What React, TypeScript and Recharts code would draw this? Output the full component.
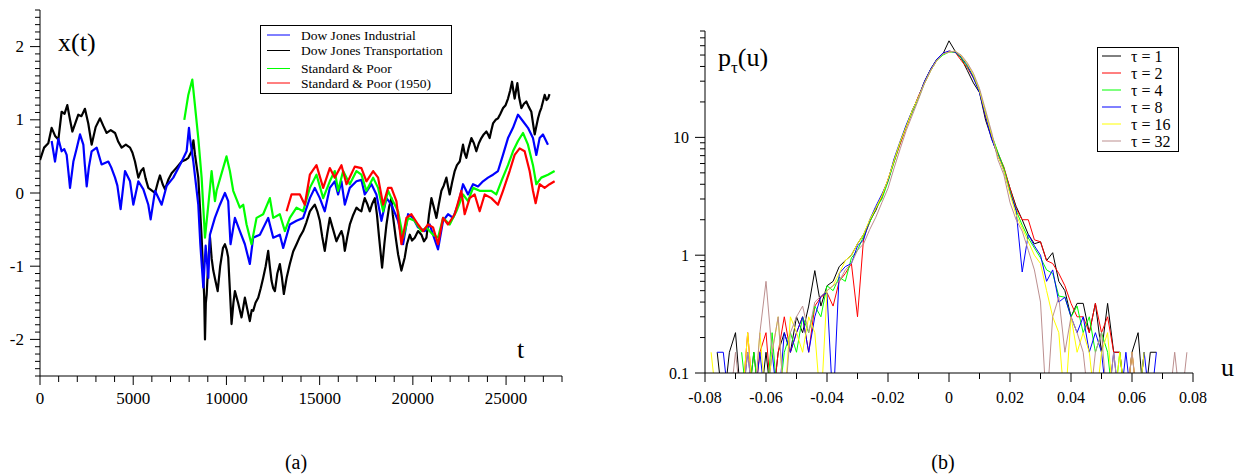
import React from 'react';
import { LineChart, Line, XAxis, YAxis } from 'recharts';

const FONT = '"Liberation Serif", "Times New Roman", Times, serif';

// ---------- Panel (a): x(t) ----------
const DJ_INDUSTRIAL: [number, number][] = [
  [625, 0.71], [805, 0.43], [985, 0.74], [1160, 0.57], [1300, 0.6], [1430, 0.52], [1520, 0.3], [1610, 0.07],
  [1790, 0.43], [1960, 0.6], [2145, 0.8], [2325, 0.66], [2400, 0.4], [2505, 0.09], [2620, 0.35], [2770, 0.57],
  [3040, 0.62], [3305, 0.39], [3665, 0.43], [3820, 0.35], [4025, 0.21], [4150, 0.1], [4325, -0.22], [4560, 0.3],
  [4830, 0.16], [5005, -0.16], [5275, 0.16], [5545, 0.05], [5810, -0.16], [5935, -0.36], [6170, 0.03], [6525, -0.16],
  [6795, 0.1], [7150, 0.21], [7600, 0.43], [7865, 0.57], [7990, 0.89], [8045, 0.75], [8225, 0.43], [8490, -0.16],
  [8600, -0.7], [8760, -1.29], [8885, -0.72], [9030, -1.16], [9115, -0.57], [9380, -0.34], [9650, -0.16], [9920, 0.0],
  [10095, -0.11], [10220, -0.7], [10455, -0.34], [10720, -0.52], [10990, -0.7], [11255, -0.97], [11435, -0.61],
  [11795, -0.57], [12240, -0.34], [12510, -0.61], [12865, -0.57], [13045, -0.75], [13400, -0.43], [13760, -0.38],
  [14115, -0.34], [14475, -0.07], [14740, 0.07], [15010, -0.07], [15275, -0.25], [15545, 0.07], [15810, 0.16],
  [15990, -0.02], [16170, 0.16], [16350, -0.16], [16615, 0.07], [16975, 0.16], [17240, 0.18], [17420, -0.02],
  [17780, 0.12], [18045, -0.02], [18315, -0.38], [18585, -0.07], [18850, -0.16], [19207, -0.38], [19475, -0.7],
  [19743, -0.29], [20011, -0.34], [20279, -0.47], [20636, -0.52], [20904, -0.43], [21083, -0.57], [21351, -0.77],
  [21619, -0.38], [21887, -0.29], [22155, -0.34], [22423, -0.16], [22691, 0.12], [22959, -0.02], [23227, 0.12],
  [23495, 0.09], [23763, 0.16], [24031, 0.21], [24299, 0.25], [24567, 0.3], [24835, 0.52], [25103, 0.75],
  [25371, 0.89], [25639, 1.07], [25907, 0.98], [26175, 0.89], [26443, 0.75], [26622, 0.52], [26800, 0.75],
  [26979, 0.8], [27247, 0.66],
];

const DJ_TRANSPORT: [number, number][] = [
  [0, 0.45], [220, 0.62], [445, 0.68], [625, 0.89], [810, 0.78], [985, 0.73], [1160, 1.11], [1315, 1.08], [1465, 1.2],
  [1610, 1.0], [1735, 0.84], [1890, 0.95], [2055, 1.07], [2225, 1.05], [2410, 1.15], [2590, 0.95], [2770, 0.66],
  [2985, 0.9], [3220, 1.02], [3390, 0.92], [3575, 0.82], [3795, 0.86], [4025, 0.82], [4200, 0.7], [4380, 0.62],
  [4605, 0.66], [4830, 0.62], [4960, 0.55], [5095, 0.43], [5275, 0.21], [5415, 0.3], [5545, 0.34], [5665, 0.2],
  [5810, 0.07], [5970, 0.04], [6170, 0.0], [6325, 0.15], [6435, 0.24], [6580, 0.12], [6705, 0.05], [6880, 0.18],
  [7060, 0.27], [7335, 0.35], [7600, 0.43], [7790, 0.45], [7955, 0.48], [8135, 0.57], [8230, 0.72], [8310, 0.53],
  [8490, 0.21], [8580, -0.2], [8670, -0.61], [8760, -1.16], [8805, -1.4], [8850, -2.0], [8895, -1.5], [8940, -1.39],
  [9025, -0.95], [9120, -0.61], [9210, -0.9], [9295, -1.06], [9410, -1.2], [9530, -1.34], [9665, -1.0], [9815, -0.75],
  [9920, -0.7], [10020, -0.78], [10095, -0.88], [10200, -1.4], [10275, -1.79], [10375, -1.5], [10455, -1.34],
  [10625, -1.5], [10810, -1.7], [10910, -1.55], [10990, -1.43], [11130, -1.6], [11255, -1.75], [11355, -1.6],
  [11435, -1.61], [11560, -1.5], [11705, -1.43], [11840, -1.3], [11970, -1.16], [12105, -1.0], [12240, -0.79],
  [12325, -1.0], [12420, -1.2], [12510, -1.3], [12600, -1.34], [12730, -1.1], [12865, -0.97], [12975, -1.15],
  [13080, -1.38], [13235, -1.15], [13400, -0.97], [13580, -0.8], [13760, -0.7], [13935, -0.6], [14115, -0.52],
  [14290, -0.4], [14475, -0.25], [14615, -0.2], [14740, -0.16], [14875, -0.25], [15010, -0.38], [15140, -0.6],
  [15275, -0.79], [15410, -0.55], [15545, -0.34], [15725, -0.5], [15900, -0.66], [16040, -0.58], [16170, -0.52],
  [16260, -0.6], [16350, -0.79], [16485, -0.6], [16620, -0.43], [16800, -0.3], [16975, -0.2], [17105, -0.23],
  [17240, -0.25], [17330, -0.15], [17420, -0.07], [17555, -0.15], [17690, -0.25], [17815, -0.15], [17960, -0.07],
  [18075, -0.3], [18190, -0.61], [18265, -0.8], [18350, -1.02], [18470, -0.7], [18585, -0.43], [18720, -0.2],
  [18850, -0.07], [18925, -0.3], [19075, -0.6], [19210, -0.84], [19385, -1.06], [19565, -0.88], [19680, -0.7],
  [19835, -0.57], [19955, -0.65], [20100, -0.61], [20280, -0.52], [20460, -0.57], [20595, -0.66], [20730, -0.61],
  [20865, -0.3], [20995, -0.07], [21130, -0.2], [21265, -0.34], [21395, -0.15], [21530, 0.03], [21655, 0.1],
  [21800, 0.21], [21880, 0.1], [21975, -0.02], [22110, 0.15], [22245, 0.3], [22365, 0.38], [22515, 0.43],
  [22690, 0.66], [22770, 0.55], [22870, 0.48], [22995, 0.62], [23140, 0.75], [23275, 0.68], [23405, 0.57],
  [23540, 0.68], [23675, 0.75], [23800, 0.8], [23945, 0.84], [24035, 0.8], [24120, 0.75], [24205, 0.85],
  [24300, 0.95], [24440, 1.0], [24570, 1.02], [24690, 1.08], [24840, 1.16], [24975, 1.2], [25105, 1.29],
  [25220, 1.4], [25320, 1.52], [25390, 1.4], [25460, 1.29], [25535, 1.4], [25605, 1.5], [25705, 1.3],
  [25820, 1.16], [25960, 1.22], [26085, 1.25], [26210, 1.18], [26355, 1.11], [26445, 0.95], [26535, 0.8],
  [26615, 0.9], [26715, 1.02], [26800, 1.1], [26890, 1.16], [26980, 1.25], [27070, 1.34], [27170, 1.27],
  [27250, 1.29], [27330, 1.35],
];

const SP: [number, number][] = [
  [7740, 1.0], [7955, 1.34], [8170, 1.55], [8310, 1.2], [8490, 0.75], [8670, 0.21], [8850, -0.61], [9030, -0.16],
  [9205, 0.3], [9385, -0.11], [9470, 0.03], [10005, 0.5], [10185, 0.3], [10365, 0.03], [10720, -0.2], [10900, -0.16],
  [11080, -0.43], [11345, -0.7], [11615, -0.34], [11970, -0.29], [12330, -0.07], [12510, -0.34], [12865, -0.29],
  [13135, -0.52], [13400, -0.34], [13760, -0.2], [14115, -0.25], [14475, 0.07], [14830, 0.25], [15190, -0.07],
  [15545, 0.16], [15810, 0.3], [15990, 0.03], [16260, 0.3], [16615, 0.12], [16975, 0.3], [17240, 0.25],
  [17510, 0.03], [17870, 0.21], [18135, 0.07], [18405, -0.25], [18670, 0.03], [18850, -0.07], [19207, -0.25],
  [19475, -0.61], [19743, -0.34], [20100, -0.38], [20457, -0.52], [20725, -0.47], [21083, -0.57], [21351, -0.61],
  [21619, -0.34], [21976, -0.43], [22333, -0.25], [22691, -0.02], [22959, -0.11], [23227, 0.07], [23584, 0.03],
  [23852, 0.03], [24209, 0.03], [24477, -0.02], [24745, 0.16], [25103, 0.38], [25371, 0.57], [25639, 0.71],
  [25907, 0.82], [26175, 0.66], [26443, 0.38], [26622, 0.12], [26890, 0.21], [27247, 0.25], [27604, 0.3],
];

const SP_1950: [number, number][] = [
  [13225, -0.25], [13490, -0.02], [13940, -0.02], [14205, -0.16], [14475, 0.25], [14830, 0.38], [15190, 0.07],
  [15545, 0.34], [15810, 0.21], [16170, 0.38], [16440, 0.12], [16885, 0.36], [17240, 0.34], [17510, 0.16],
  [17870, 0.3], [18135, 0.21], [18405, -0.16], [18670, 0.07], [18850, 0.07], [19118, -0.11], [19386, -0.7],
  [19654, -0.34], [19922, -0.29], [20279, -0.43], [20547, -0.52], [20815, -0.43], [21083, -0.47], [21351, -0.7],
  [21619, -0.34], [21887, -0.43], [22244, -0.29], [22602, 0.03], [22780, -0.29], [23048, -0.07], [23316, -0.02],
  [23584, -0.25], [23852, -0.02], [24209, -0.07], [24567, -0.16], [24835, 0.03], [25192, 0.3], [25460, 0.52],
  [25728, 0.61], [25996, 0.57], [26264, 0.3], [26443, 0.03], [26586, -0.14], [26800, 0.12], [27068, 0.07],
  [27336, 0.12], [27604, 0.16],
];

const T_MAJOR = [0, 5000, 10000, 15000, 20000, 25000];
const X_MAJOR = [-2, -1, 0, 1, 2];

// ---------- Panel (b): p_tau(u) ----------
const U_BINS = [
  -0.080, -0.078, -0.076, -0.074, -0.072, -0.070, -0.068, -0.066, -0.064, -0.062,
  -0.060, -0.058, -0.056, -0.054, -0.052, -0.050, -0.048, -0.046, -0.044, -0.042,
  -0.040, -0.038, -0.036, -0.034, -0.032, -0.030, -0.028, -0.026, -0.024, -0.022,
  -0.020, -0.018, -0.016, -0.014, -0.012, -0.010, -0.008, -0.006, -0.004, -0.002,
  0.000, 0.002, 0.004, 0.006, 0.008, 0.010, 0.012, 0.014, 0.016, 0.018,
  0.020, 0.022, 0.024, 0.026, 0.028, 0.030, 0.032, 0.034, 0.036, 0.038,
  0.040, 0.042, 0.044, 0.046, 0.048, 0.050, 0.052, 0.054, 0.056, 0.058,
  0.060, 0.062, 0.064, 0.066, 0.068, 0.070, 0.072, 0.074, 0.076, 0.078,
  0.080,
];

const TAU_1 = [
  null, null, 0.15, 0.05, 0.15, 0.22, 0.05, 0.05, 0.15, 0.05,
  0.15, 0.05, 0.15, 0.22, 0.15, 0.3, 0.22, 0.37, 0.74, 0.37,
  0.55, 0.6, 0.8, 0.9, 1.0, 1.25, 1.5, 1.95, 2.4, 3.2,
  4.3, 6.4, 9.0, 12.5, 17, 22, 30, 38, 46, 51,
  66, 54, 47, 37, 29, 24, 14, 9.8, 7.0, 5.4,
  3.7, 2.6, 2.0, 1.5, 1.25, 1.3, 0.9, 1.05, 0.6, 0.5,
  0.3, 0.39, 0.39, 0.22, 0.39, 0.15, 0.39, 0.15, 0.15, 0.05,
  0.15, 0.22, 0.05, 0.15, 0.15, null, null, null, null, null,
  null,
];
const TAU_2 = [
  null, null, null, null, 0.05, 0.05, 0.05, 0.22, 0.05, 0.15,
  0.22, 0.05, 0.15, 0.3, 0.15, 0.22, 0.3, 0.15, 0.37, 0.44,
  0.48, 0.37, 0.6, 0.7, 0.85, 0.3, 1.4, 1.9, 2.5, 3.1,
  4.4, 6.2, 8.8, 12.2, 16.5, 22.5, 29, 37, 45, 51,
  54, 53, 45, 39, 32, 25, 15, 10.2, 7.4, 5.6,
  3.7, 2.5, 2.0, 2.0, 1.35, 1.3, 0.9, 0.85, 0.7, 0.55,
  0.39, 0.3, 0.3, 0.22, 0.39, 0.22, 0.3, 0.15, 0.15, 0.05,
  0.15, 0.05, 0.15, null, null, null, null, null, null, null,
  null,
];
const TAU_4 = [
  null, null, null, null, null, null, 0.15, 0.05, 0.15, 0.05,
  0.05, 0.22, 0.05, 0.15, 0.22, 0.15, 0.3, 0.22, 0.37, 0.3,
  0.55, 0.5, 0.65, 0.6, 0.95, 1.1, 1.45, 1.9, 2.5, 3.0,
  4.2, 6.2, 9.1, 12.5, 16.5, 21.5, 29, 37, 45, 50,
  53, 53, 47, 40, 33, 25, 16, 10.5, 7.5, 5.5,
  3.5, 2.4, 1.8, 1.4, 1.15, 0.95, 0.75, 0.7, 0.45, 0.44,
  0.3, 0.37, 0.22, 0.3, 0.15, 0.22, 0.15, 0.05, 0.15, 0.05,
  0.05, 0.05, 0.15, null, null, null, null, null, null, null,
  null,
];
const TAU_8 = [
  null, null, 0.15, 0.15, 0.05, 0.05, 0.05, 0.15, 0.05, 0.15,
  0.05, 0.15, 0.05, 0.22, 0.15, 0.22, 0.3, 0.15, 0.3, 0.45,
  0.48, 0.05, 0.7, 0.8, 0.85, 1.2, 1.35, 2.0, 2.6, 3.3,
  4.3, 6.6, 9.3, 12.8, 17, 22, 30, 38, 46, 52,
  54, 53, 48, 41, 32, 24, 15, 9.6, 7.2, 5.2,
  3.4, 2.4, 0.72, 1.5, 1.2, 1.0, 0.6, 0.75, 0.4, 0.44,
  0.3, 0.22, 0.3, 0.15, 0.22, 0.15, 0.05, 0.15, 0.05, 0.15,
  0.05, 0.05, 0.15, 0.05, 0.15, null, null, null, null, null,
  null,
];
const TAU_16 = [
  null, 0.15, 0.05, 0.05, 0.05, 0.05, 0.05, 0.22, 0.05, 0.22,
  0.05, 0.15, 0.3, 0.05, 0.3, 0.22, 0.15, 0.3, 0.22, 0.05,
  0.5, 0.55, 0.7, 0.9, 1.0, 1.25, 1.5, 2.0, 2.5, 3.2,
  4.4, 6.4, 9.2, 12.4, 17, 22, 29, 37, 45, 51,
  53, 54, 49, 42, 34, 25, 16, 10.5, 7.0, 5.2,
  3.3, 2.2, 1.7, 1.3, 1.0, 0.85, 0.5, 0.3, 0.22, 0.05,
  0.3, 0.15, 0.22, 0.15, 0.05, 0.15, 0.22, 0.05, 0.15, 0.05,
  0.15, 0.05, 0.15, null, null, null, null, null, null, null,
  null,
];
const TAU_32 = [
  null, null, null, 0.05, 0.05, 0.15, 0.05, 0.15, 0.05, 0.22,
  0.6, 0.15, 0.3, 0.05, 0.22, 0.3, 0.37, 0.22, 0.4, 0.45,
  0.5, 0.55, 0.6, 0.75, 0.85, 1.1, 1.25, 1.65, 2.1, 2.8,
  3.7, 5.5, 8.0, 11.5, 15.5, 21, 29, 37, 45, 51,
  53, 54, 50, 43, 35, 26, 17, 11, 6.5, 4.8,
  2.8, 2.0, 1.6, 1.1, 0.75, 0.4, 0.05, 0.3, 0.44, 0.15,
  0.3, 0.22, 0.15, 0.05, 0.15, 0.22, 0.05, 0.15, 0.05, 0.05,
  0.15, 0.05, 0.05, 0.05, 0.05, 0.05, 0.05, 0.15, 0.05, 0.15,
  null,
];

const U_MAJOR = [-0.08, -0.06, -0.04, -0.02, 0, 0.02, 0.04, 0.06, 0.08];
const P_MAJOR = [0.1, 1, 10];

const TAU_SERIES = [
  { key: 't1', label: 'τ = 1', color: '#000000', values: TAU_1 },
  { key: 't2', label: 'τ = 2', color: '#ff0000', values: TAU_2 },
  { key: 't4', label: 'τ = 4', color: '#00ff00', values: TAU_4 },
  { key: 't8', label: 'τ = 8', color: '#0000ff', values: TAU_8 },
  { key: 't16', label: 'τ = 16', color: '#ffff00', values: TAU_16 },
  { key: 't32', label: 'τ = 32', color: '#bc8f8f', values: TAU_32 },
];

const DIST_ROWS = U_BINS.map((u, i) => {
  const row: Record<string, number | null> = { u };
  TAU_SERIES.forEach((s) => { row[s.key] = s.values[i]; });
  return row;
});

const X_SERIES = [
  { name: 'Dow Jones Industrial', color: '#0000ff', pts: DJ_INDUSTRIAL },
  { name: 'Dow Jones Transportation', color: '#000000', pts: DJ_TRANSPORT },
  { name: 'Standard & Poor', color: '#00ff00', pts: SP },
  { name: 'Standard & Poor (1950)', color: '#ff0000', pts: SP_1950 },
];
const DRAW_ORDER = [1, 0, 2, 3];

const T_TICKS = Array.from({ length: 29 }, (_, i) => i * 1000);
const XV_TICKS = Array.from({ length: 51 }, (_, i) => Math.round((-2.5 + i * 0.1) * 10) / 10);
const U_TICKS = Array.from({ length: 17 }, (_, i) => Math.round((-0.08 + i * 0.01) * 100) / 100);
const P_TICKS: number[] = [];
[0.1, 1, 10].forEach((d) => { for (let k = 1; k <= 9; k++) { const v = Math.round(d * k * 1000) / 1000; if (v <= 80) P_TICKS.push(v); } });

const near = (v: number, arr: number[]) => arr.some((a) => Math.abs(a - v) < 1e-9);

type TickCfg = {
  side: 'left' | 'right' | 'bottom';
  majors: number[];
  fmt: (v: number) => string;
  fontSize: number;
  majorLen: number;
  minorLen: number;
  gap: number;
  labels: boolean;
};

const makeTick = (cfg: TickCfg) => (props: any) => {
  const { x, y, payload } = props;
  const v = payload.value as number;
  const major = near(v, cfg.majors);
  const len = major ? cfg.majorLen : cfg.minorLen;
  let line;
  let text = null;
  if (cfg.side === 'left') {
    line = <line x1={x - len} y1={y} x2={x} y2={y} stroke="#000" strokeWidth={1} />;
    if (major && cfg.labels)
      text = (
        <text x={x - cfg.gap} y={y} textAnchor="end" dominantBaseline="central" fontSize={cfg.fontSize} fontFamily={FONT} fill="#000">
          {cfg.fmt(v)}
        </text>
      );
  } else if (cfg.side === 'right') {
    line = <line x1={x} y1={y} x2={x + len} y2={y} stroke="#000" strokeWidth={1} />;
  } else {
    line = <line x1={x} y1={y} x2={x} y2={y + len} stroke="#000" strokeWidth={1} />;
    if (major && cfg.labels)
      text = (
        <text x={x} y={y + cfg.gap} textAnchor="middle" dominantBaseline="central" fontSize={cfg.fontSize} fontFamily={FONT} fill="#000">
          {cfg.fmt(v)}
        </text>
      );
  }
  return (
    <g>
      {line}
      {text}
    </g>
  );
};

const fmtInt = (v: number) => String(v);
const fmtU = (v: number) => (Math.abs(v) < 1e-9 ? '0' : v.toFixed(2));
const fmtP = (v: number) => String(v);

function PanelA() {
  return (
    <LineChart width={620} height={420} margin={{ top: 10, right: 58, bottom: 14, left: 0 }}>
      <XAxis
        dataKey="t"
        type="number"
        domain={[0, 28000]}
        allowDataOverflow
        ticks={T_TICKS}
        interval={0}
        height={30}
        tickSize={0}
        tickMargin={0}
        tickLine={false}
        axisLine={{ stroke: '#000' }}
        tick={makeTick({ side: 'bottom', majors: T_MAJOR, fmt: fmtInt, fontSize: 17, majorLen: 9, minorLen: 6, gap: 22, labels: true })}
      />
      <XAxis xAxisId="top" orientation="top" dataKey="t" type="number" domain={[0, 28000]} allowDataOverflow height={0} tick={false} tickLine={false} axisLine={{ stroke: '#000' }} />
      <YAxis
        type="number"
        domain={[-2.5, 2.5]}
        allowDataOverflow
        ticks={XV_TICKS}
        interval={0}
        width={40}
        tickSize={0}
        tickMargin={0}
        tickLine={false}
        axisLine={{ stroke: '#000' }}
        tick={makeTick({ side: 'left', majors: X_MAJOR, fmt: fmtInt, fontSize: 17, majorLen: 10, minorLen: 5, gap: 16, labels: true })}
      />
      <YAxis
        yAxisId="r"
        orientation="right"
        type="number"
        domain={[-2.5, 2.5]}
        allowDataOverflow
        ticks={XV_TICKS}
        interval={0}
        width={0}
        tickSize={0}
        tickMargin={0}
        tickLine={false}
        axisLine={{ stroke: '#000' }}
        tick={makeTick({ side: 'right', majors: X_MAJOR, fmt: fmtInt, fontSize: 17, majorLen: 10, minorLen: 5, gap: 0, labels: false })}
      />
      {DRAW_ORDER.map((idx) => {
        const s = X_SERIES[idx];
        return (
          <Line
            key={s.name}
            name={s.name}
            data={s.pts.map(([t, x]) => ({ t, x }))}
            dataKey="x"
            type="linear"
            stroke={s.color}
            strokeWidth={2.2}
            strokeLinejoin="round"
            dot={false}
            isAnimationActive={false}
          />
        );
      })}
    </LineChart>
  );
}

function PanelB() {
  return (
    <LineChart width={598} height={420} data={DIST_ROWS} margin={{ top: 31, right: 45, bottom: 17, left: 20 }}>
      <XAxis
        dataKey="u"
        type="number"
        domain={[-0.08, 0.08]}
        allowDataOverflow
        ticks={U_TICKS}
        interval={0}
        height={30}
        tickSize={0}
        tickMargin={0}
        tickLine={false}
        axisLine={{ stroke: '#000' }}
        tick={makeTick({ side: 'bottom', majors: U_MAJOR, fmt: fmtU, fontSize: 16, majorLen: 9, minorLen: 6, gap: 24, labels: true })}
      />
      <XAxis xAxisId="top" orientation="top" dataKey="u" type="number" domain={[-0.08, 0.08]} allowDataOverflow height={0} tick={false} tickLine={false} axisLine={{ stroke: '#000' }} />
      <YAxis
        type="number"
        scale="log"
        domain={[0.1, 80]}
        allowDataOverflow
        ticks={P_TICKS}
        interval={0}
        width={45}
        tickSize={0}
        tickMargin={0}
        tickLine={false}
        axisLine={{ stroke: '#000' }}
        tick={makeTick({ side: 'left', majors: P_MAJOR, fmt: fmtP, fontSize: 16, majorLen: 10, minorLen: 5, gap: 16, labels: true })}
      />
      <YAxis
        yAxisId="r"
        orientation="right"
        type="number"
        scale="log"
        domain={[0.1, 80]}
        allowDataOverflow
        ticks={P_TICKS}
        interval={0}
        width={0}
        tickSize={0}
        tickMargin={0}
        tickLine={false}
        axisLine={{ stroke: '#000' }}
        tick={makeTick({ side: 'right', majors: P_MAJOR, fmt: fmtP, fontSize: 16, majorLen: 10, minorLen: 5, gap: 0, labels: false })}
      />
      {TAU_SERIES.map((s) => (
        <Line
          key={s.key}
          name={s.label}
          dataKey={s.key}
          type="linear"
          stroke={s.color}
          strokeWidth={1}
          dot={false}
          connectNulls={false}
          isAnimationActive={false}
        />
      ))}
    </LineChart>
  );
}

export default function App() {
  const legA = [
    { name: X_SERIES[0].name, color: X_SERIES[0].color, y: 35 },
    { name: X_SERIES[1].name, color: X_SERIES[1].color, y: 50.5 },
    { name: X_SERIES[2].name, color: X_SERIES[2].color, y: 68.5 },
    { name: X_SERIES[3].name, color: X_SERIES[3].color, y: 83 },
  ];
  return (
    <div style={{ position: 'absolute', left: 0, top: 0, width: 1238, height: 476, background: '#fff', fontFamily: FONT, overflow: 'hidden' }}>
      <div style={{ position: 'absolute', left: 0, top: 0 }}>
        <PanelA />
      </div>
      <div style={{ position: 'absolute', left: 640, top: 0 }}>
        <PanelB />
      </div>
      <svg width={1238} height={476} style={{ position: 'absolute', left: 0, top: 0, pointerEvents: 'none' }}>
        <g fontFamily={FONT} fill="#000">
          <text x={58} y={51} fontSize={26}>x(t)</text>
          <text x={517} y={358} fontSize={26}>t</text>
          <text x={718} y={66} fontSize={26}>
            p<tspan fontSize={17} dy={7}>τ</tspan><tspan fontSize={26} dy={-7}>(u)</tspan>
          </text>
          <text x={1221} y={376} fontSize={26}>u</text>
          <text x={296} y={469} fontSize={20} textAnchor="middle">(a)</text>
          <text x={943} y={469} fontSize={20} textAnchor="middle">(b)</text>
        </g>
        <rect x={260.5} y={25.5} width={191} height={68} fill="#fff" stroke="#000" strokeWidth={1} />
        {legA.map((r) => (
          <g key={r.name}>
            <line x1={267} y1={r.y} x2={290} y2={r.y} stroke={r.color} strokeWidth={1} />
            <text x={301} y={r.y} dominantBaseline="central" fontSize={13.5} fontFamily={FONT} fill="#000">{r.name}</text>
          </g>
        ))}
        <rect x={1097.5} y={47.5} width={81} height={104} fill="#fff" stroke="#000" strokeWidth={1} />
        {TAU_SERIES.map((s, i) => (
          <g key={s.key}>
            <line x1={1102} y1={56 + i * 17} x2={1121} y2={56 + i * 17} stroke={s.color} strokeWidth={1} />
            <text x={1131} y={56 + i * 17} dominantBaseline="central" fontSize={16} fontFamily={FONT} fill="#000">{s.label}</text>
          </g>
        ))}
      </svg>
    </div>
  );
}
